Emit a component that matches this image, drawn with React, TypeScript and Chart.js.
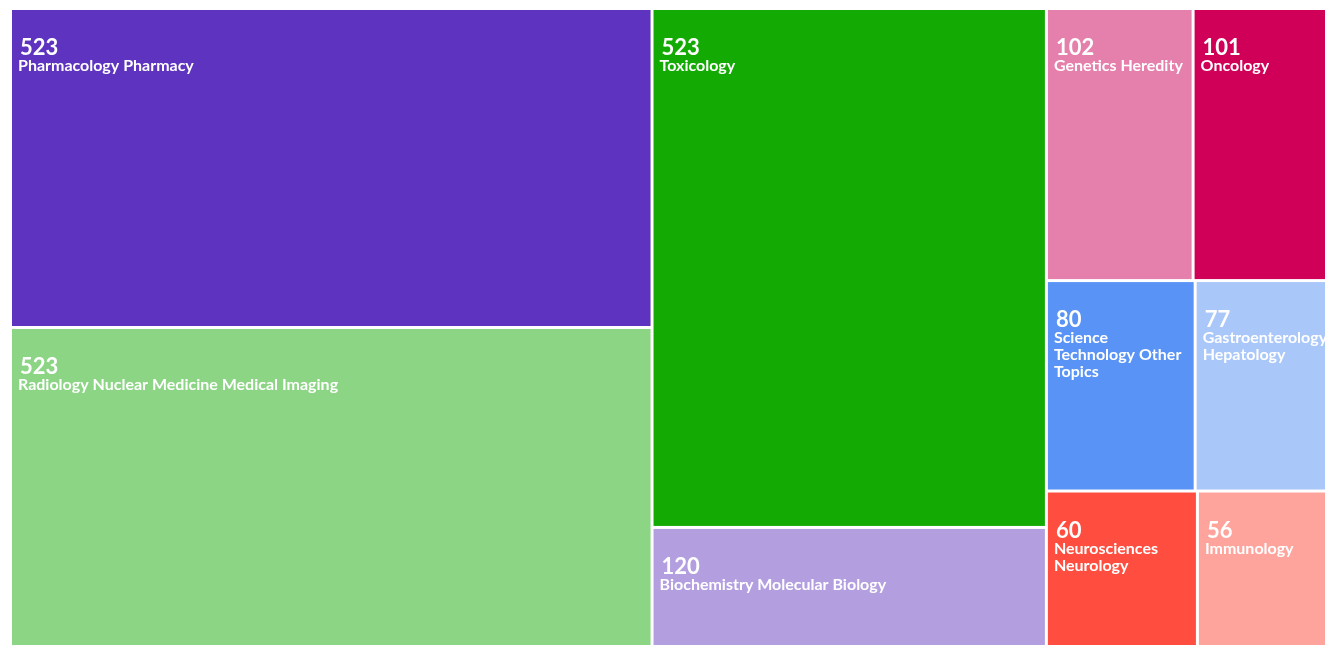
import React, { useEffect, useRef } from "react";
import { Chart, registerables } from "chart.js";

Chart.register(...registerables);

const categories: string[] = [
  "Pharmacology Pharmacy",
  "Radiology Nuclear Medicine Medical Imaging",
  "Toxicology",
  "Biochemistry Molecular Biology",
  "Genetics Heredity",
  "Oncology",
  "Science\nTechnology Other\nTopics",
  "Gastroenterology\nHepatology",
  "Neurosciences\nNeurology",
  "Immunology",
];
const values: number[] = [523, 523, 523, 120, 102, 101, 80, 77, 60, 56];
const colors: string[] = [
  "#5d33bf",
  "#8cd585",
  "#13aa04",
  "#b39fe0",
  "#e57fab",
  "#d00058",
  "#5893f5",
  "#a9c7f9",
  "#ff4e3f",
  "#ffa49c",
];

// The tiling domain runs a little past the visible plot area on the right
// (the rightmost column is clipped at the plot edge in the reference).
const TILE_X_MAX = 100.9;

type Rect = { i: number; x0: number; y0: number; x1: number; y1: number };

// d3-style squarify with golden ratio
function squarify(vals: number[], x0: number, y0: number, x1: number, y1: number): Rect[] {
  const ratio = (1 + Math.sqrt(5)) / 2;
  const nodes = vals.map((v, i) => ({ v, i })).sort((a, b) => b.v - a.v);
  const out: Rect[] = [];
  let value = nodes.reduce((s, n) => s + n.v, 0);
  let i0 = 0;
  let i1 = 0;
  const n = nodes.length;
  while (i0 < n) {
    const dx = x1 - x0;
    const dy = y1 - y0;
    let sumValue = nodes[i1++].v;
    let minValue = sumValue;
    let maxValue = sumValue;
    const alpha = Math.max(dy / dx, dx / dy) / (value * ratio);
    let beta = sumValue * sumValue * alpha;
    let minRatio = Math.max(maxValue / beta, beta / minValue);
    for (; i1 < n; ++i1) {
      const nv = nodes[i1].v;
      sumValue += nv;
      if (nv < minValue) minValue = nv;
      if (nv > maxValue) maxValue = nv;
      beta = sumValue * sumValue * alpha;
      const newRatio = Math.max(maxValue / beta, beta / minValue);
      if (newRatio > minRatio) {
        sumValue -= nv;
        break;
      }
      minRatio = newRatio;
    }
    const row = nodes.slice(i0, i1);
    if (dx < dy) {
      const ny = y0 + (dy * sumValue) / value;
      let x = x0;
      for (const r of row) {
        const w = (dx * r.v) / sumValue;
        out.push({ i: r.i, x0: x, y0, x1: x + w, y1: ny });
        x += w;
      }
      y0 = ny;
    } else {
      const nx = x0 + (dx * sumValue) / value;
      let y = y0;
      for (const r of row) {
        const h = (dy * r.v) / sumValue;
        out.push({ i: r.i, x0, y0: y, x1: nx, y1: y + h });
        y += h;
      }
      x0 = nx;
    }
    value -= sumValue;
    i0 = i1;
  }
  return out;
}

const treemapPlugin = {
  id: "treemapPlugin",
  afterDraw(chart: any) {
    const { ctx, chartArea, scales } = chart;
    const W = chartArea.right - chartArea.left;
    const H = chartArea.bottom - chartArea.top;
    const Wt = (W * TILE_X_MAX) / 100;
    const rects = squarify(values, 0, 0, Wt, H);
    const xs = scales.x;
    const ys = scales.y;
    const gap = 1.5;
    const box = (r: Rect) => ({
      l: xs.getPixelForValue((r.x0 / W) * 100) + gap,
      rr: xs.getPixelForValue((r.x1 / W) * 100) - gap,
      t: ys.getPixelForValue((r.y0 / H) * 100) + gap,
      b: ys.getPixelForValue((r.y1 / H) * 100) - gap,
    });
    ctx.save();
    ctx.beginPath();
    ctx.rect(chartArea.left, chartArea.top, W - gap, H);
    ctx.clip();
    for (const r of rects) {
      const p = box(r);
      ctx.fillStyle = colors[r.i];
      ctx.fillRect(p.l, p.t, p.rr - p.l, p.b - p.t);
    }
    ctx.restore();
    ctx.save();
    for (const r of rects) {
      const p = box(r);
      ctx.fillStyle = "#ffffff";
      ctx.textAlign = "left";
      ctx.textBaseline = "alphabetic";
      ctx.font = "bold 22px Lato, 'Open Sans', sans-serif";
      ctx.fillText(String(values[r.i]), p.l + 8, p.t + 45);
      ctx.font = "bold 16px Lato, 'Open Sans', sans-serif";
      const lines = categories[r.i].split("\n");
      lines.forEach((ln, k) => {
        ctx.fillText(ln, p.l + 6, p.t + 61 + k * 17);
      });
    }
    ctx.restore();
  },
};

export default function App() {
  const ref = useRef<HTMLCanvasElement | null>(null);
  useEffect(() => {
    if (!ref.current) return;
    const chart = new Chart(ref.current, {
      type: "scatter",
      data: { datasets: [{ data: [] }] },
      options: {
        animation: false,
        responsive: true,
        maintainAspectRatio: false,
        layout: { padding: { left: 10.5, top: 8.5, right: 8.5, bottom: 5.5 } },
        plugins: { legend: { display: false }, tooltip: { enabled: false } },
        scales: {
          x: { type: "linear", min: 0, max: 100, display: false },
          y: { type: "linear", min: 0, max: 100, reverse: true, display: false },
        },
      },
      plugins: [treemapPlugin],
    });
    return () => chart.destroy();
  }, []);
  return (
    <div style={{ position: "absolute", left: 0, top: 0, width: 1335, height: 652, background: "#fff" }}>
      <canvas ref={ref} />
    </div>
  );
}
